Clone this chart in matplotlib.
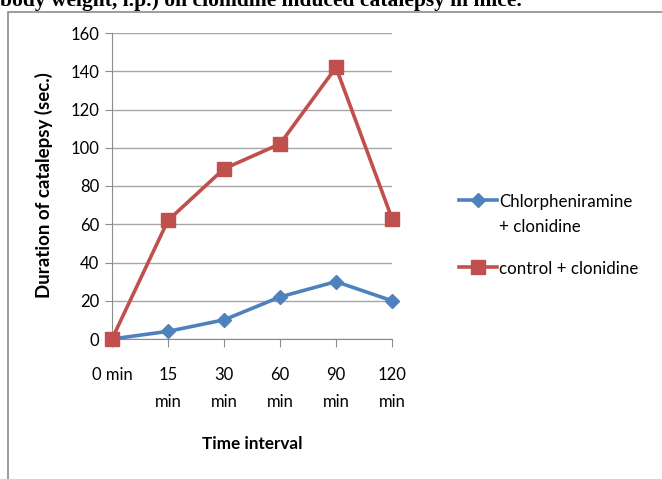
import matplotlib.pyplot as plt
from matplotlib.patches import Rectangle
from matplotlib.lines import Line2D

# chart data
times = ['0 min', '15\nmin', '30\nmin', '60\nmin', '90\nmin', '120\nmin']
chlor = [0, 4, 10, 22, 30, 20]
control = [0, 62, 89, 102, 142, 63]
yticks = [0, 20, 40, 60, 80, 100, 120, 140, 160]
BLUE = '#4F81BD'
RED = '#C0504D'

W, H = 662, 479
plt.rcParams['font.family'] = ['Lato', 'DejaVu Sans']

fig = plt.figure(figsize=(W / 100, H / 100), dpi=100)
ax = fig.add_axes([112 / W, 1 - 339 / H, 280 / W, 306 / H])


def px(x, y):
    # pixel position (from top-left) -> figure fraction
    return x / W, 1 - y / H


# outer chart border, cut by the image edges
fig.patches.append(Rectangle((8 / W, -0.1), 1.2, 1 - 12 / H + 0.1, transform=fig.transFigure,
                             fill=False, edgecolor='#8c8c8c', linewidth=1.2))

# caption from the page above, partly cut off
fig.text(0.0, 1 - 6 / H, 'body weight, i.p.) on clonidine induced catalepsy in mice.',
         family='Liberation Serif', weight='bold', fontsize=15.5, va='baseline', ha='left')

x = list(range(len(times)))
ax.plot(x, chlor, color=BLUE, linewidth=2.6, marker='D', markersize=7, zorder=3, clip_on=False)
ax.plot(x, control, color=RED, linewidth=2.6, marker='s', markersize=10, zorder=4, clip_on=False)

ax.set_xlim(0, 5)
ax.set_ylim(0, 160)
ax.set_yticks(yticks)
ax.set_xticks(x)
ax.set_xticklabels(times, fontsize=12, linespacing=1.85)
ax.tick_params(axis='y', labelsize=12, length=5, color='#8c8c8c', pad=4)
ax.tick_params(axis='x', length=6, color='#8c8c8c', pad=14)
for lbl in ax.get_xticklabels():
    lbl.set_va('top')
ax.grid(axis='y', color='#a6a6a6', linewidth=1)
ax.set_axisbelow(True)
for s in ['top', 'right']:
    ax.spines[s].set_visible(False)
ax.spines['left'].set_color('#8c8c8c')
ax.spines['bottom'].set_color('#8c8c8c')

fig.text(*px(44, 185), 'Duration of catalepsy (sec.)', rotation=90, fontsize=13.5,
         weight='bold', ha='center', va='center')
fig.text(*px(252, 444), 'Time interval', fontsize=12.3, weight='bold',
         ha='center', va='center')

# legend, drawn by hand so the marker sits on the first text line like Excel
legend_rows = [(BLUE, 'D', 7, 200, ['Chlorpheniramine', '+ clonidine']),
               (RED, 's', 10, 267, ['control + clonidine'])]
for color, mk, ms, y, lines in legend_rows:
    (x0, yf), (x1, _) = px(459, y), px(497, y)
    fig.add_artist(Line2D([x0, x1], [yf, yf], color=color, linewidth=2.6))
    fig.add_artist(Line2D([(x0 + x1) / 2], [yf], color=color, marker=mk, markersize=ms))
    for i, t in enumerate(lines):
        fig.text(*px(499, y + 2 + 25 * i), t, fontsize=12.2, ha='left', va='center')

fig.savefig('out.png', dpi=100)
